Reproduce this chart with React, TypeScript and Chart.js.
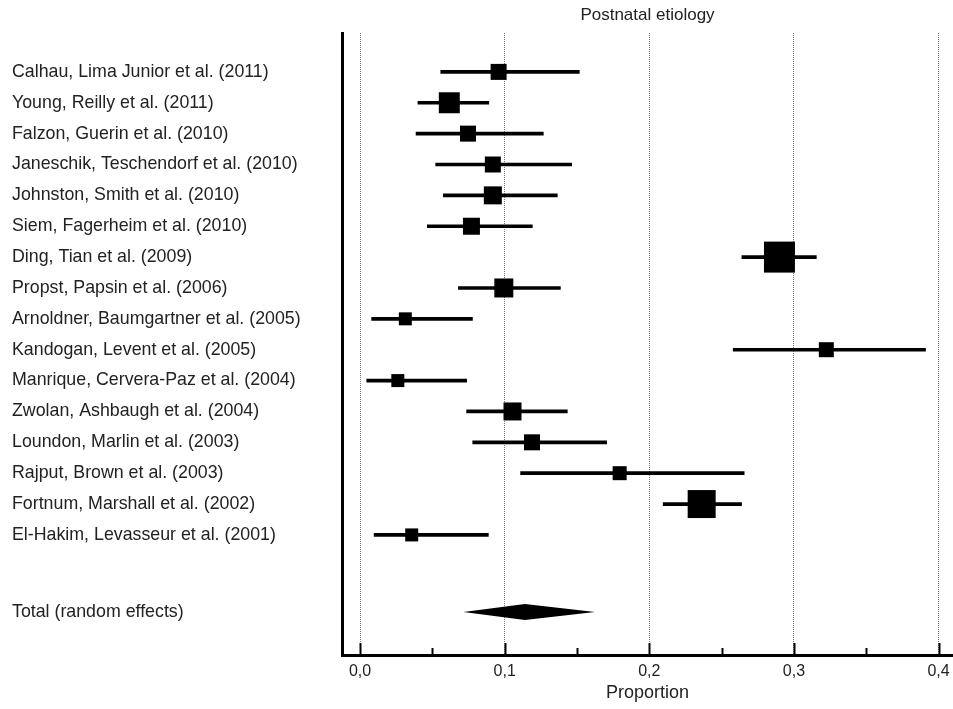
import React, { useEffect, useRef } from "react";
import { Chart, registerables } from "chart.js";

Chart.register(...registerables);

const STUDIES = [
  "Calhau, Lima Junior et al. (2011)",
  "Young, Reilly et al. (2011)",
  "Falzon, Guerin et al. (2010)",
  "Janeschik, Teschendorf et al. (2010)",
  "Johnston, Smith et al. (2010)",
  "Siem, Fagerheim et al. (2010)",
  "Ding, Tian et al. (2009)",
  "Propst, Papsin et al. (2006)",
  "Arnoldner, Baumgartner et al. (2005)",
  "Kandogan, Levent et al. (2005)",
  "Manrique, Cervera-Paz et al. (2004)",
  "Zwolan, Ashbaugh et al. (2004)",
  "Loundon, Marlin et al. (2003)",
  "Rajput, Brown et al. (2003)",
  "Fortnum, Marshall et al. (2002)",
  "El-Hakim, Levasseur et al. (2001)",
];
const ESTIMATES = [0.0958, 0.0617, 0.0746, 0.0918, 0.0918, 0.077, 0.29, 0.0994, 0.0313, 0.3224, 0.0261, 0.1054, 0.1189, 0.1795, 0.2362, 0.0357];
const CI_LOW = [0.0558, 0.04, 0.0387, 0.0523, 0.0576, 0.0465, 0.264, 0.068, 0.008, 0.258, 0.0046, 0.0737, 0.0779, 0.111, 0.2096, 0.0097];
const CI_HIGH = [0.1516, 0.089, 0.1267, 0.1463, 0.1364, 0.1191, 0.3155, 0.1385, 0.0777, 0.391, 0.0737, 0.1433, 0.1705, 0.2656, 0.2638, 0.0887];
const WEIGHTS = [4.71, 8.11, 4.71, 4.71, 5.96, 5.32, 17.68, 6.64, 3.11, 4.14, 3.11, 5.96, 4.71, 3.61, 14.42, 3.11];
const ROW_POS = [0, 1, 2, 3, 4, 5, 6, 7, 8, 9, 10, 11, 12, 13, 14, 15];

const TOTAL_LABEL = "Total (random effects)";
const TOTAL_POS = 17.5;
const TOTAL_EST = 0.114;
const TOTAL_LOW = 0.0715;
const TOTAL_HIGH = 0.1624;

const X_TICKS = [0, 0.1, 0.2, 0.3, 0.4];
const X_MINOR_TICKS = [0.05, 0.15, 0.25, 0.35];
const TITLE = "Postnatal etiology";
const X_TITLE = "Proportion";

const FONT = "'Liberation Sans', Arial, sans-serif";

export default function App() {
  const ref = useRef<HTMLCanvasElement | null>(null);

  useEffect(() => {
    const canvas = ref.current;
    if (!canvas) return;

    const sideFromWeight = (w: number) => Math.sqrt(w) * 7.37;

    const decorations = {
      id: "forestDecorations",
      afterDatasetsDraw(chart: any) {
        const { ctx } = chart;
        const xs = chart.scales.x;
        const ys = chart.scales.y;
        const yc = ys.getPixelForValue(TOTAL_POS);
        ctx.save();
        ctx.fillStyle = "#000";
        ctx.beginPath();
        ctx.moveTo(xs.getPixelForValue(TOTAL_LOW), yc);
        ctx.lineTo(xs.getPixelForValue(TOTAL_EST), yc - 8);
        ctx.lineTo(xs.getPixelForValue(TOTAL_HIGH), yc);
        ctx.lineTo(xs.getPixelForValue(TOTAL_EST), yc + 8);
        ctx.closePath();
        ctx.fill();
        ctx.restore();
      },
      afterDraw(chart: any) {
        const { ctx, chartArea } = chart;
        const xs = chart.scales.x;
        ctx.save();
        ctx.strokeStyle = "#000";
        ctx.lineWidth = 2;
        const yb = chartArea.bottom;
        X_TICKS.forEach((v) => {
          const px = Math.round(xs.getPixelForValue(v)) + 0.5;
          ctx.beginPath();
          ctx.moveTo(px, yb);
          ctx.lineTo(px, yb - 12);
          ctx.stroke();
        });
        X_MINOR_TICKS.forEach((v) => {
          const px = Math.round(xs.getPixelForValue(v)) + 0.5;
          ctx.beginPath();
          ctx.moveTo(px, yb);
          ctx.lineTo(px, yb - 7);
          ctx.stroke();
        });
        ctx.restore();
      },
    };

    const chart = new Chart(canvas, {
      data: {
        datasets: [
          {
            type: "bar",
            data: ROW_POS.map((r, i) => ({ x: [CI_LOW[i], CI_HIGH[i]], y: r })) as any,
            backgroundColor: "#000",
            borderWidth: 0,
            barThickness: 3,
            grouped: false,
          } as any,
          {
            type: "scatter",
            data: ROW_POS.map((r, i) => ({ x: ESTIMATES[i], y: r })),
            pointStyle: "rect",
            backgroundColor: "#000",
            borderWidth: 0,
            pointRadius: (c: any) => sideFromWeight(WEIGHTS[c.dataIndex]) / Math.SQRT2,
          } as any,
        ],
      },
      options: {
        indexAxis: "y",
        animation: false,
        responsive: false,
        events: [],
        layout: { autoPadding: false, padding: { left: 12, top: 0, right: 0, bottom: 0 } },
        plugins: {
          legend: { display: false },
          tooltip: { enabled: false },
          title: {
            display: true,
            text: TITLE,
            fullSize: false,
            color: "#222",
            font: { family: FONT, size: 17, weight: "normal" },
            padding: { top: 5, bottom: 7.6 },
          },
        },
        scales: {
          x: {
            type: "linear",
            position: "bottom",
            min: -0.0125,
            max: 0.41,
            offset: false,
            afterBuildTicks: (s: any) => {
              s.ticks = X_TICKS.map((v) => ({ value: v }));
            },
            afterFit: (s: any) => {
              s.height = 54;
              s.paddingLeft = 0;
              s.paddingRight = 0;
            },
            ticks: {
              color: "#222",
              font: { family: FONT, size: 16 },
              padding: 7,
              maxRotation: 0,
              callback: (v: any) => Number(v).toFixed(1).replace(".", ","),
            },
            grid: {
              display: true,
              drawTicks: false,
              color: "#777",
              lineWidth: 1,
            },
            border: { display: true, color: "#000", width: 3, dash: [1, 1] },
            title: {
              display: true,
              text: X_TITLE,
              color: "#222",
              font: { family: FONT, size: 18 },
              padding: { top: 0, bottom: 5.2 },
            },
          },
          y: {
            type: "linear",
            position: "left",
            reverse: true,
            offset: false,
            min: -1.26,
            max: 18.89,
            afterBuildTicks: (s: any) => {
              s.ticks = [...ROW_POS, TOTAL_POS].map((v) => ({ value: v }));
            },
            afterFit: (s: any) => {
              s.width = 330;
              s.paddingTop = 0;
              s.paddingBottom = 0;
            },
            ticks: {
              crossAlign: "far",
              color: "#222",
              font: { family: FONT, size: 17.8 },
              callback: (v: any, i: number) => (i < STUDIES.length ? STUDIES[i] : TOTAL_LABEL),
            },
            grid: { display: false, drawTicks: false, offset: false },
            border: { display: true, color: "#000", width: 3 },
          },
        },
      } as any,
      plugins: [decorations],
    });

    return () => chart.destroy();
  }, []);

  return (
    <div style={{ position: "absolute", left: 0, top: 0, width: 953, height: 709, background: "#fff" }}>
      <canvas ref={ref} width={953} height={709} />
    </div>
  );
}
